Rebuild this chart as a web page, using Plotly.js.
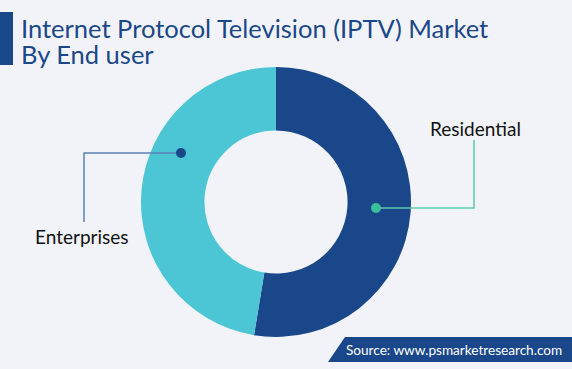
<!DOCTYPE html>
<html><head><meta charset="utf-8">
<script src="https://cdn.plot.ly/plotly-3.0.1.min.js"></script>
<style>html,body{margin:0;padding:0;background:#f2f3f8;}#c{width:572px;height:369px;}</style>
</head><body><div id="c"></div>
<script>
const categories = ["Residential", "Enterprises"];
const shares = [52.6, 47.4];
const colors = ["#1a4789", "#4cc6d5"];
const W = 572, H = 369;
const px = x => x / W, py = y => 1 - y / H;

const data = [{
  type: "pie", labels: categories, values: shares, hole: 0.53,
  sort: false, direction: "clockwise", rotation: 0,
  marker: {colors: colors, line: {width: 0}},
  textinfo: "none", hoverinfo: "label+percent", showlegend: false,
  domain: {x: [px(141), px(411)], y: [py(337), py(67)]}
}];

const shapes = [
  {type: "rect", xref: "paper", yref: "paper", x0: px(0), x1: px(13), y0: py(65), y1: py(12), fillcolor: "#1a4789", line: {width: 0}},
  {type: "path", xref: "paper", yref: "paper", path: `M ${px(328)} ${py(362)} L ${px(345)} ${py(337)} L ${px(572)} ${py(337)} L ${px(572)} ${py(362)} Z`, fillcolor: "#1a4789", line: {width: 0}},
  {type: "path", xref: "paper", yref: "paper", path: `M ${px(376)} ${py(208)} L ${px(474)} ${py(208)} L ${px(474)} ${py(140)}`, line: {color: "#5cc8ac", width: 1.5}},
  {type: "circle", xref: "paper", yref: "paper", x0: px(371), x1: px(381), y0: py(213), y1: py(203), fillcolor: "#3dbf9e", line: {width: 0}},
  {type: "path", xref: "paper", yref: "paper", path: `M ${px(180)} ${py(153)} L ${px(84)} ${py(153)} L ${px(84)} ${py(222)}`, line: {color: "#5b82b4", width: 1.5}},
  {type: "circle", xref: "paper", yref: "paper", x0: px(176), x1: px(186), y0: py(158), y1: py(148), fillcolor: "#1a4789", line: {width: 0}}
];

const annotations = [
  {xref: "paper", yref: "paper", x: px(19), y: py(28), xanchor: "left", yanchor: "middle", showarrow: false,
   text: "Internet Protocol Television (IPTV) Market", font: {family: "Lato", size: 25.5, color: "#1a4789"}},
  {xref: "paper", yref: "paper", x: px(19), y: py(54), xanchor: "left", yanchor: "middle", showarrow: false,
   text: "By End user", font: {family: "Lato", size: 25.5, color: "#1a4789"}},
  {xref: "paper", yref: "paper", x: px(475), y: py(128), xanchor: "center", yanchor: "middle", showarrow: false,
   text: categories[0], font: {family: "Lato", size: 19, color: "#111111"}},
  {xref: "paper", yref: "paper", x: px(82), y: py(236), xanchor: "center", yanchor: "middle", showarrow: false,
   text: categories[1], font: {family: "Lato", size: 19, color: "#111111"}},
  {xref: "paper", yref: "paper", x: px(454), y: py(350), xanchor: "center", yanchor: "middle", showarrow: false,
   text: "Source: www.psmarketresearch.com", font: {family: "Lato", size: 13.6, color: "#ffffff"}}
];

Plotly.newPlot("c", data, {
  width: W, height: H, margin: {l: 0, r: 0, t: 0, b: 0},
  paper_bgcolor: "#f2f3f8", plot_bgcolor: "#f2f3f8",
  shapes: shapes, annotations: annotations
}, {displayModeBar: false, staticPlot: true});
</script></body></html>
